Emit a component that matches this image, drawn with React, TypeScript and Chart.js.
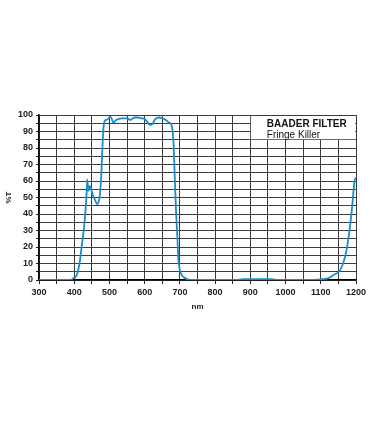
import React, { useEffect, useRef } from "react";
import { Chart, registerables } from "chart.js";

Chart.register(...registerables);

const wavelengths = [300, 350, 390, 397, 407, 415, 421, 428, 432, 435, 437, 440, 444, 448, 452, 458, 465, 470, 473, 476, 480, 483, 486, 490, 496, 502, 507, 511, 516, 525, 535, 549, 560, 570, 580, 590, 600, 607, 615, 622, 630, 640, 650, 660, 668, 675, 679, 682, 685, 689, 693, 696, 700, 705, 712, 720, 730, 800, 860, 880, 960, 980, 1050, 1100, 1120, 1136, 1155, 1169, 1179, 1188, 1196, 1200];
const transmission = [0, 0, 0, 1, 3, 10, 20, 32, 42, 52, 61, 54, 57, 55, 52, 49, 46, 48, 52, 60, 80, 92, 96, 97, 97.5, 99, 97.5, 95, 96.5, 97.5, 98, 98, 97, 98.5, 98.5, 98, 97.5, 96, 94, 94.5, 97.5, 98.5, 98, 97, 95.5, 94.5, 91, 83, 65, 42, 25, 12, 6, 3, 1.5, 0.5, 0, 0, 0, 0.5, 0.5, 0, 0, 0.4, 1, 3, 6, 14, 26, 42, 60, 62];

const xTitle = "nm";
const yTitle = "%T";
const legendTitle = "BAADER FILTER";
const legendSub = "Fringe Killer";

const boxPlugin = {
  id: "legendBox",
  beforeDatasetsDraw(chart: any) {
    const { ctx, scales } = chart;
    const x = scales.x;
    const y = scales.y;
    const l = x.getPixelForValue(900) + 0.5;
    const r = x.getPixelForValue(1200) - 1;
    const t = y.getPixelForValue(100) + 1;
    const b = y.getPixelForValue(85) - 0.5;
    ctx.save();
    ctx.fillStyle = "#ffffff";
    ctx.fillRect(l, t, r - l, b - t);
    ctx.fillStyle = "#111";
    ctx.textBaseline = "middle";
    ctx.textAlign = "left";
    ctx.font = "bold 10px 'Liberation Sans', Arial, sans-serif";
    ctx.fillText(legendTitle, l + 16, t + 8);
    ctx.font = "10px 'Liberation Sans', Arial, sans-serif";
    ctx.fillText(legendSub, l + 16, t + 19.5);
    ctx.restore();
  },
};

export default function App() {
  const ref = useRef<HTMLCanvasElement>(null);
  useEffect(() => {
    if (!ref.current) return;
    const tickFont = { family: "'Liberation Sans', Arial, sans-serif", size: 9, weight: "bold" as const };
    const chart = new Chart(ref.current, {
      type: "line",
      data: {
        datasets: [
          {
            data: wavelengths.map((w, i) => ({ x: w, y: transmission[i] })),
            borderColor: "#1a8ccc",
            borderWidth: 1.8,
            pointRadius: 0,
            cubicInterpolationMode: "monotone",
            fill: false,
          },
        ],
      },
      options: {
        animation: false,
        responsive: false,
        devicePixelRatio: 1,
        layout: { padding: { left: 0, right: 14, top: 115, bottom: 108 } },
        plugins: { legend: { display: false }, tooltip: { enabled: false } },
        scales: {
          x: {
            type: "linear",
            min: 300,
            max: 1200,
            afterFit: (s: any) => {
              s.height = 35;
            },
            ticks: {
              stepSize: 50,
              autoSkip: false,
              maxRotation: 0,
              padding: 3,
              color: "#222",
              font: tickFont,
              callback: (v: any) => (Number(v) % 100 === 0 ? String(v) : ""),
            },
            grid: { color: "#3c3c3c", lineWidth: 1, tickLength: 4, tickColor: "#222" },
            border: { color: "#000", width: 1.5 },
            title: {
              display: true,
              text: xTitle,
              color: "#222",
              font: { family: "'Liberation Sans', Arial, sans-serif", size: 8, weight: "bold" },
              padding: { top: 0, bottom: 3 },
            },
          },
          y: {
            type: "linear",
            min: 0,
            max: 100,
            afterFit: (s: any) => {
              s.width = 39;
            },
            ticks: {
              stepSize: 5,
              autoSkip: false,
              padding: 3,
              color: "#222",
              font: tickFont,
              callback: (v: any) => (Number(v) % 10 === 0 ? String(v) : ""),
            },
            grid: { color: "#3c3c3c", lineWidth: 1, tickLength: 3, tickColor: "#222" },
            border: { color: "#000", width: 1.5 },
            title: {
              display: true,
              text: yTitle,
              color: "#222",
              font: { family: "'Liberation Sans', Arial, sans-serif", size: 8, weight: "bold" },
              padding: { top: 4, bottom: 0 },
            },
          },
        },
      },
      plugins: [boxPlugin],
    });
    return () => chart.destroy();
  }, []);
  return (
    <div style={{ position: "absolute", left: 0, top: 0, width: 370, height: 423, background: "#fff" }}>
      <canvas ref={ref} width={370} height={423} style={{ display: "block" }} />
    </div>
  );
}
